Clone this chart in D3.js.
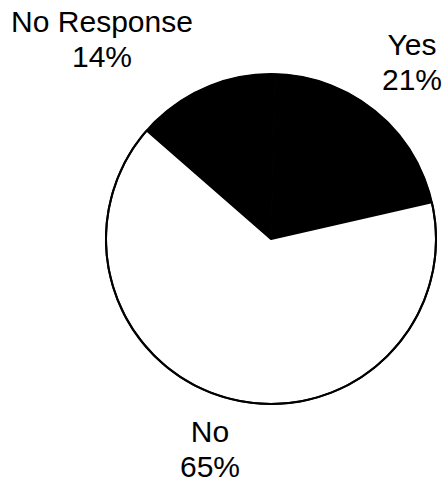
<!DOCTYPE html>
<html>
<head>
<meta charset="utf-8">
<script src="https://cdn.jsdelivr.net/npm/d3@7"></script>
<style>
  body { margin: 0; background: #fff; }
  svg text { font-family: "Liberation Sans", Arial, sans-serif; fill: #000; }
</style>
</head>
<body>
<svg id="chart" width="443" height="483"></svg>
<script>
let categories = ["Yes", "No", "No Response"];
let values = [21, 65, 14];

let fills = { "Yes": "#000", "No": "#fff", "No Response": "#000" };
// where each two-line label sits (centre x, first baseline)
let labelPos = {
    "Yes": [412, 55],
    "No": [210, 442],
    "No Response": [102, 32]
};

let svg = d3.select("#chart");
let cx = 271, cy = 239, r = 165;

let data = categories.map((c, i) => ({ name: c, value: values[i] }));

let pie = d3.pie()
    .sort(null)
    .value(d => d.value)
    .startAngle(1.5 * Math.PI / 180)
    .endAngle(1.5 * Math.PI / 180 + 2 * Math.PI);

let arc = d3.arc().innerRadius(0).outerRadius(r);

let g = svg.append("g").attr("transform", "translate(" + cx + "," + cy + ")");

g.selectAll("path.slice")
    .data(pie(data))
    .enter().append("path")
    .attr("class", "slice")
    .attr("d", arc)
    .attr("fill", d => fills[d.data.name])
    .attr("stroke", "#000")
    .attr("stroke-width", d => fills[d.data.name] == "#000" ? 1 : 2)
    .attr("stroke-linejoin", "round");

// outer rim
g.append("circle").attr("r", r)
    .attr("fill", "none")
    .attr("stroke", "#000")
    .attr("stroke-width", 2);

let labels = svg.selectAll("g.lab")
    .data(data)
    .enter().append("g")
    .attr("class", "lab")
    .attr("transform", d => "translate(" + labelPos[d.name][0] + "," + labelPos[d.name][1] + ")");

labels.append("text")
    .attr("text-anchor", "middle")
    .style("font-size", "30px")
    .text(d => d.name);

labels.append("text")
    .attr("text-anchor", "middle")
    .attr("y", 35)
    .style("font-size", "30px")
    .text(d => d.value + "%");
</script>
</body>
</html>
